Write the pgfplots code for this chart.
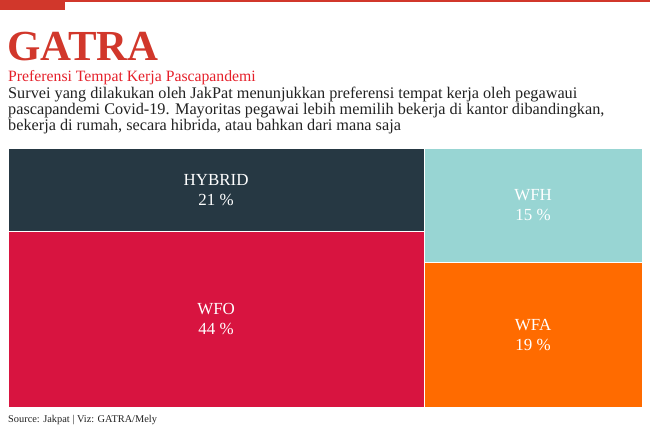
\documentclass[border=0pt]{standalone}
\usepackage{fontspec}
\setmainfont{Liberation Serif}
\usepackage{pgfplots}
\pgfplotsset{compat=1.18}
\definecolor{gatrared}{HTML}{D1372B}
\definecolor{subred}{HTML}{E5202A}
\definecolor{hybrid}{HTML}{263843}
\definecolor{wfo}{HTML}{D81440}
\definecolor{wfh}{HTML}{98D5D3}
\definecolor{wfa}{HTML}{FF6B00}
\definecolor{bodytext}{HTML}{222222}
\begin{document}
\begin{tikzpicture}[x=1bp,y=1bp]
\path[use as bounding box] (0,0) rectangle (650,-433);
\fill[gatrared] (0,0) rectangle (650,-2);
\fill[gatrared] (0,0) rectangle (65,-10);
\node[anchor=base west, inner sep=0, font=\fontsize{43}{43}\selectfont\bfseries, text=gatrared] at (7,-61) {GATRA};
\node[anchor=base west, inner sep=0, font=\fontsize{15.8}{16}\selectfont, text=subred] at (8,-82) {Preferensi Tempat Kerja Pascapandemi};
\node[anchor=base west, inner sep=0, font=\fontsize{16.3}{16}\selectfont, text=bodytext] at (8,-99) {Survei yang dilakukan oleh  JakPat menunjukkan preferensi tempat kerja oleh pegawaui};
\node[anchor=base west, inner sep=0, font=\fontsize{16.3}{16}\selectfont, text=bodytext] at (8,-115) {pascapandemi Covid-19. Mayoritas pegawai lebih memilih bekerja di kantor dibandingkan,};
\node[anchor=base west, inner sep=0, font=\fontsize{16.3}{16}\selectfont, text=bodytext] at (8,-131) {bekerja di rumah, secara hibrida, atau bahkan dari mana saja};
\node[anchor=base west, inner sep=0, font=\fontsize{10.4}{12}\selectfont, text=bodytext] at (8,-422) {Source: Jakpat | Viz: GATRA/Mely};
\begin{axis}[at={(8bp,-407bp)}, anchor=south west, scale only axis,
  width=634bp, height=259bp, xmin=0, xmax=99, ymin=0, ymax=1,
  hide axis, clip=false]
% WFO 44
\addplot[fill=wfo, draw=white, line width=1bp] coordinates {(0,0) (65,0) (65,0.6769) (0,0.6769)} --cycle;
% HYBRID 21
\addplot[fill=hybrid, draw=white, line width=1bp] coordinates {(0,0.6769) (65,0.6769) (65,1) (0,1)} --cycle;
% WFA 19
\addplot[fill=wfa, draw=white, line width=1bp] coordinates {(65,0) (99,0) (99,0.5588) (65,0.5588)} --cycle;
% WFH 15
\addplot[fill=wfh, draw=white, line width=1bp] coordinates {(65,0.5588) (99,0.5588) (99,1) (65,1)} --cycle;
\node[align=center, text=white, font=\fontsize{17}{20}\selectfont] at (axis cs:32.5,0.8385) {HYBRID\\21 \%};
\node[align=center, text=white, font=\fontsize{17}{20}\selectfont] at (axis cs:32.5,0.3385) {WFO\\44 \%};
\node[align=center, text=white, font=\fontsize{17}{20}\selectfont] at (axis cs:82,0.7794) {WFH\\15 \%};
\node[align=center, text=white, font=\fontsize{17}{20}\selectfont] at (axis cs:82,0.2794) {WFA\\19 \%};
\end{axis}
\end{tikzpicture}
\end{document}
